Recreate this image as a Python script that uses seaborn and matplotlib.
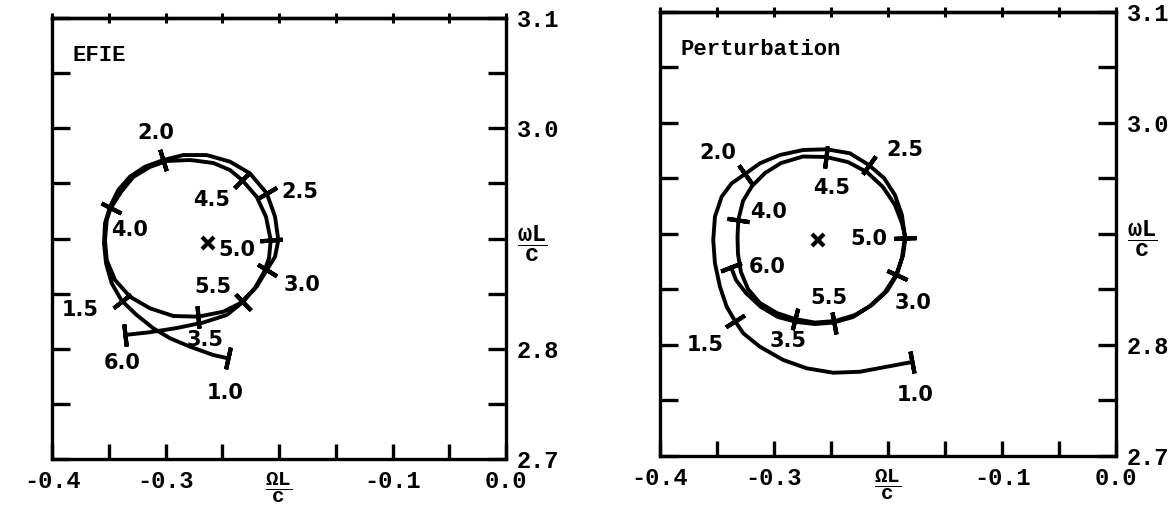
import numpy as np
import pandas as pd
import matplotlib
matplotlib.use("Agg")
import matplotlib.pyplot as plt
import seaborn as sns

# ---- trajectory of the complex resonance (Omega L / c, omega L / c) ----
efie_x = [-0.2447, -0.2579, -0.2784, -0.2960, -0.3108, -0.3254, -0.3386, -0.3474, -0.3524, -0.3542,
          -0.3533, -0.3489, -0.3416, -0.3313, -0.3181, -0.3019, -0.2843, -0.2637, -0.2432, -0.2256,
          -0.2108, -0.2035, -0.2006, -0.2035, -0.2108, -0.2197, -0.2344, -0.2491, -0.2711, -0.2931,
          -0.3137, -0.3313, -0.3445, -0.3518, -0.3533, -0.3518, -0.3483, -0.3392, -0.3284, -0.3137,
          -0.2990, -0.2784, -0.2579, -0.2432, -0.2326, -0.2197, -0.2115, -0.2073, -0.2088, -0.2132,
          -0.2212, -0.2317, -0.2461, -0.2667, -0.2901, -0.3137, -0.3357]
efie_y = [2.7913, 2.7943, 2.8019, 2.8095, 2.8186, 2.8306, 2.8436, 2.8594, 2.8775, 2.8957,
          2.9138, 2.9289, 2.9440, 2.9561, 2.9651, 2.9712, 2.9757, 2.9757, 2.9697, 2.9591,
          2.9410, 2.9198, 2.8986, 2.8835, 2.8714, 2.8563, 2.8412, 2.8336, 2.8291, 2.8297,
          2.8367, 2.8472, 2.8624, 2.8805, 2.8986, 2.9168, 2.9274, 2.9422, 2.9558, 2.9649,
          2.9703, 2.9712, 2.9685, 2.9621, 2.9531, 2.9379, 2.9198, 2.8986, 2.8823, 2.8696,
          2.8551, 2.8424, 2.8306, 2.8238, 2.8188, 2.8150, 2.8125]

pert_x = [-0.1793, -0.2012, -0.2246, -0.2480, -0.2713, -0.2919, -0.3123, -0.3269, -0.3342, -0.3415,
          -0.3474, -0.3518, -0.3533, -0.3518, -0.3459, -0.3371, -0.3255, -0.3123, -0.2948, -0.2743,
          -0.2538, -0.2334, -0.2167, -0.2035, -0.1939, -0.1878, -0.1851, -0.1878, -0.1922, -0.2009,
          -0.2141, -0.2290, -0.2465, -0.2641, -0.2816, -0.2974, -0.3123, -0.3228, -0.3290, -0.3316,
          -0.3320, -0.3313, -0.3272, -0.3193, -0.3079, -0.2939, -0.2746, -0.2544, -0.2351, -0.2185,
          -0.2044, -0.1939, -0.1878, -0.1847, -0.1869, -0.1930, -0.2027, -0.2158, -0.2307, -0.2478,
          -0.2641, -0.2799, -0.2965, -0.3114, -0.3246, -0.3333, -0.3377]
pert_y = [2.7846, 2.7804, 2.7759, 2.7750, 2.7790, 2.7865, 2.7984, 2.8105, 2.8216, 2.8345,
          2.8525, 2.8736, 2.8946, 2.9156, 2.9336, 2.9457, 2.9540, 2.9637, 2.9712, 2.9757,
          2.9763, 2.9727, 2.9621, 2.9504, 2.9351, 2.9171, 2.8973, 2.8784, 2.8630, 2.8486,
          2.8360, 2.8270, 2.8216, 2.8202, 2.8234, 2.8288, 2.8378, 2.8504, 2.8657, 2.8820,
          2.8973, 2.9126, 2.9297, 2.9432, 2.9549, 2.9639, 2.9698, 2.9694, 2.9648, 2.9558,
          2.9423, 2.9261, 2.9099, 2.8964, 2.8802, 2.8630, 2.8477, 2.8351, 2.8252, 2.8202,
          2.8189, 2.8207, 2.8252, 2.8342, 2.8468, 2.8585, 2.8702]

# parameter values marked along each trajectory
param_labels = ["1.0", "1.5", "2.0", "2.5", "3.0", "3.5", "4.0", "4.5", "5.0", "5.5", "6.0"]
efie_mark_x = [-0.2447, -0.3386, -0.3019, -0.2108, -0.2108, -0.2711, -0.3483, -0.2326, -0.2073, -0.2317, -0.3357]
efie_mark_y = [2.7913, 2.8436, 2.9712, 2.9410, 2.8714, 2.8291, 2.9274, 2.9531, 2.8986, 2.8424, 2.8125]
pert_mark_x = [-0.1793, -0.3342, -0.3255, -0.2167, -0.1922, -0.2816, -0.3313, -0.2544, -0.1847, -0.2478, -0.3377]
pert_mark_y = [2.7846, 2.8216, 2.9540, 2.9621, 2.8630, 2.8234, 2.9126, 2.9694, 2.8964, 2.8202, 2.8702]

# isolated resonance (cross)
efie_center = (-0.2626, 2.8959)
pert_center = (-0.2612, 2.8950)

panel_titles = ["EFIE", "Perturbation"]

x_ticks = [-0.40, -0.35, -0.30, -0.25, -0.20, -0.15, -0.10, -0.05, 0.00]
x_tick_labels = ["-0.4", "", "-0.3", "", r"$\dfrac{\Omega\mathrm{L}}{\mathrm{c}}$", "", "-0.1", "", "0.0"]
y_ticks = [2.70, 2.75, 2.80, 2.85, 2.90, 2.95, 3.00, 3.05, 3.10]
y_tick_labels = ["2.7", "", "2.8", "", r"$\dfrac{\omega\mathrm{L}}{\mathrm{c}}$", "", "3.0", "", "3.1"]

# label placement (pixel offsets from the marked point)
efie_offsets = [(-3, -35), (-42, -9), (-8, 27), (33, 1), (35, -15), (7, -23),
                (19, -22), (-30, -20), (-34, -10), (-30, 15), (-3, -28)]
pert_offsets = [(4, -33), (-30, -24), (-27, 21), (36, 15), (16, -28), (-7, -22),
                (30, 8), (6, -31), (-37, -1), (-5, 25), (36, 0)]

sns.set_theme(style="white", rc={
    "axes.edgecolor": "black", "axes.linewidth": 2.4,
    "xtick.color": "black", "ytick.color": "black", "text.color": "black",
})
plt.rcParams["font.family"] = ["DejaVu Sans"]
plt.rcParams["mathtext.fontset"] = "custom"
plt.rcParams["mathtext.rm"] = "Liberation Mono:bold"
plt.rcParams["mathtext.it"] = "Liberation Mono:bold"
plt.rcParams["mathtext.bf"] = "Liberation Mono:bold"

fig = plt.figure(figsize=(11.75, 5.09), dpi=100)
ax_left = fig.add_axes([0.04426, 0.09823, 0.38638, 0.86640])
ax_right = fig.add_axes([0.56170, 0.10413, 0.38809, 0.87230])

mono = dict(family="Liberation Mono", weight="bold")


def draw_panel(ax, xs, ys, mx, my, center, offsets, title):
    df = pd.DataFrame({"x": xs, "y": ys})
    ax.set_xlim(-0.4, 0.0)
    ax.set_ylim(2.7, 3.1)
    sns.lineplot(data=df, x="x", y="y", sort=False, estimator=None,
                 color="black", linewidth=2.8, ax=ax)

    # short cross-ticks at each parameter value, perpendicular to the path
    pts = ax.transData.transform(np.column_stack([xs, ys]))
    for lab, px, py, off in zip(param_labels, mx, my, offsets):
        d = np.hypot(np.array(xs) - px, (np.array(ys) - py))
        i = int(np.argmin(d))
        a = pts[max(i - 1, 0)]
        b = pts[min(i + 1, len(xs) - 1)]
        ang = np.degrees(np.arctan2(b[1] - a[1], b[0] - a[0]))
        ax.plot([px], [py], marker=(2, 2, ang), markersize=16,
                markeredgewidth=3.0, color="black")
        ax.annotate(lab, (px, py), xytext=off, textcoords="offset pixels",
                    ha="center", va="center", fontsize=15, fontweight="bold")

    ax.plot([center[0]], [center[1]], marker="x", markersize=8,
            markeredgewidth=3.0, color="black")

    ax.text(0.045, 0.915, title, transform=ax.transAxes, fontsize=16,
            ha="left", va="center", **mono)

    ax.set_xlabel("")
    ax.set_ylabel("")
    ax.set_xticks(x_ticks)
    ax.set_xticklabels(x_tick_labels, fontsize=17, **mono)
    ax.set_yticks(y_ticks)
    ax.set_yticklabels(y_tick_labels, fontsize=17, **mono)
    for lbl in ax.get_xticklabels() + ax.get_yticklabels():
        if lbl.get_text().startswith("$"):
            lbl.set_fontsize(15)
    ax.tick_params(axis="x", bottom=True, top=False, direction="in",
                   length=11, width=2.4, pad=8)
    ax.tick_params(axis="y", left=True, right=True, labelleft=False,
                   labelright=True, direction="in", length=13, width=2.4, pad=8)
    for s in ax.spines.values():
        s.set_linewidth(2.4)
        s.set_color("black")

    top = ax.secondary_xaxis("top")
    top.set_xticks(x_ticks)
    top.tick_params(axis="x", direction="inout", length=7, width=2.2,
                    labeltop=False)
    top.spines["top"].set_linewidth(2.4)


draw_panel(ax_left, efie_x, efie_y, efie_mark_x, efie_mark_y, efie_center,
           efie_offsets, panel_titles[0])
draw_panel(ax_right, pert_x, pert_y, pert_mark_x, pert_mark_y, pert_center,
           pert_offsets, panel_titles[1])

fig.savefig("out.png", dpi=100)
